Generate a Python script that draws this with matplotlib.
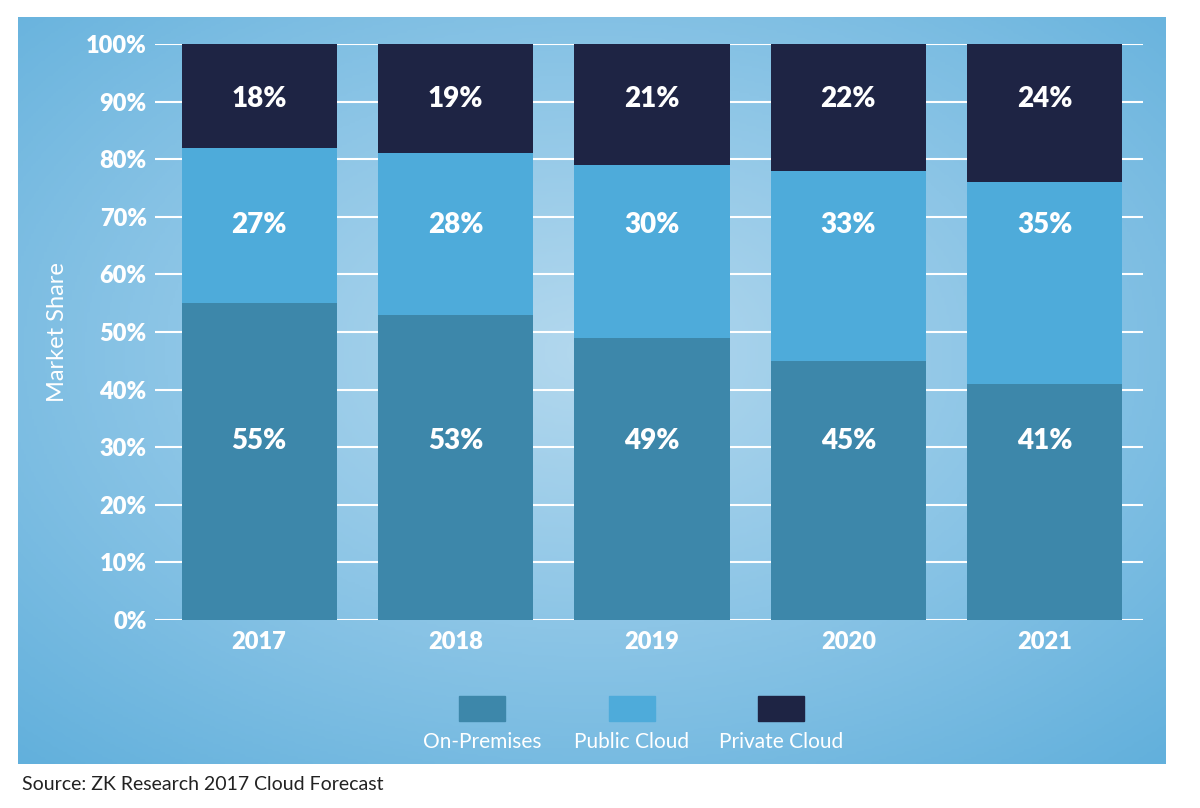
import numpy as np
import matplotlib.pyplot as plt
from matplotlib.patches import Rectangle
from matplotlib.colors import LinearSegmentedColormap

years = ['2017', '2018', '2019', '2020', '2021']
on_prem = [55, 53, 49, 45, 41]
public_cloud = [27, 28, 30, 33, 35]
private_cloud = [18, 19, 21, 22, 24]
series_names = ['On-Premises', 'Public Cloud', 'Private Cloud']
series_colors = ['#3d87aa', '#4eabda', '#1e2444']
label_y = [31, 68.5, 90.5]   # where the value labels sit in each band

plt.rcParams['font.family'] = ['Lato', 'DejaVu Sans']

fig = plt.figure(figsize=(12, 8.08), dpi=100)
fig.patch.set_facecolor('white')

# blue panel with a soft radial gradient
bg = fig.add_axes([18 / 1200, 1 - 764 / 808, 1148 / 1200, 747 / 808])
yy, xx = np.mgrid[0:1:300j, 0:1:460j]
r = np.sqrt(((xx - 0.5) / 0.75) ** 2 + ((yy - 0.45) / 0.75) ** 2)
cmap = LinearSegmentedColormap.from_list('bg', ['#b3d8ee', '#8cc5e6', '#62b0dc'])
bg.imshow(np.clip(r, 0, 1), cmap=cmap, aspect='auto', extent=[0, 1, 0, 1])
bg.axis('off')

ax = fig.add_axes([155 / 1200, 1 - 620 / 808, 988 / 1200, 576 / 808])
ax.patch.set_alpha(0)
x = np.arange(len(years))
width = 0.79
data = [on_prem, public_cloud, private_cloud]
bottom = np.zeros(len(years))
for vals, name, col, ly in zip(data, series_names, series_colors, label_y):
    bars = ax.bar(x, vals, width, bottom=bottom, color=col, label=name, zorder=3)
    for rect, v in zip(bars, vals):
        ax.text(rect.get_x() + rect.get_width() / 2, ly, f'{v}%',
                ha='center', va='center', color='white', fontsize=20,
                fontweight='heavy', zorder=4)
    bottom += np.array(vals)

ax.set_xlim(-0.53, 4.5)
ax.set_ylim(0, 100)
ax.set_yticks(range(0, 101, 10))
ax.set_yticklabels([f'{t}%' for t in range(0, 101, 10)])
ax.set_xticks(x)
ax.set_xticklabels(years)
ax.grid(axis='y', color='white', linewidth=1.5, zorder=1)
ax.tick_params(length=0, colors='white', labelsize=17)
ax.tick_params(axis='y', pad=6)
ax.tick_params(axis='x', pad=8)
for lbl in ax.get_xticklabels() + ax.get_yticklabels():
    lbl.set_fontweight('heavy')
for s in ax.spines.values():
    s.set_visible(False)
ax.set_ylabel('Market Share', color='white', fontsize=17)
ax.yaxis.set_label_coords(-(155 - 68) / 988, 0.5)

# legend: swatch above label
leg_x = [482, 632, 781]
for lx, name, col in zip(leg_x, series_names, series_colors):
    fig.add_artist(Rectangle(((lx - 23) / 1200, 1 - 721 / 808), 46 / 1200, 25 / 808,
                             transform=fig.transFigure, color=col))
    fig.text(lx / 1200, 1 - 742 / 808, name, ha='center', va='center',
             color='white', fontsize=15)

fig.text(22 / 1200, 1 - 785 / 808, 'Source: ZK Research 2017 Cloud Forecast',
         ha='left', va='center', color='#222222', fontsize=14)

fig.savefig('out.png', dpi=100)
